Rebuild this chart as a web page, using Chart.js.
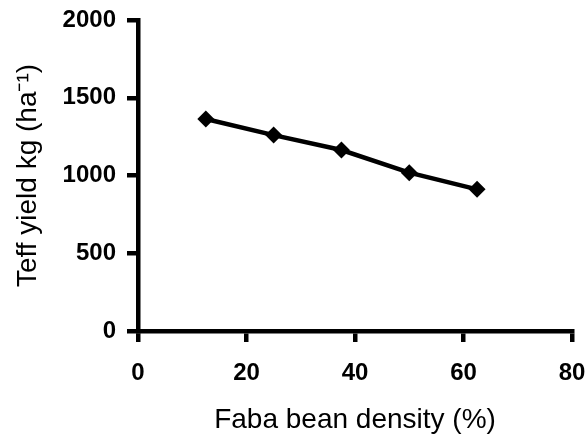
<!DOCTYPE html>
<html>
<head>
<meta charset="utf-8">
<script src="https://cdn.jsdelivr.net/npm/chart.js@4.4.1/dist/chart.umd.min.js"></script>
<style>
    html, body { margin: 0; padding: 0; background: #fff; }
    #wrap { width: 587px; height: 434px; }
</style>
</head>
<body>
<div id="wrap"><canvas id="yield-chart" width="587" height="434"></canvas></div>
<script>
// faba bean density (%) vs teff yield
const density = [12.5, 25, 37.5, 50, 62.5];
const teffYield = [1363, 1260, 1164, 1018, 911];

const xTicks = [0, 20, 40, 60, 80];
const yTicks = [0, 500, 1000, 1500, 2000];

const xTitle = 'Faba bean density (%)';
const yTitle = 'Teff yield kg (ha\u207B\u00B9)';

const FONT = '"Liberation Sans", Arial, Helvetica, sans-serif';

const points = density.map((d, i) => ({ x: d, y: teffYield[i] }));

const ctx = document.getElementById('yield-chart').getContext('2d');

new Chart(ctx, {
    type: 'line',
    data: {
        datasets: [{
            data: points,
            borderColor: '#000',
            backgroundColor: '#000',
            borderWidth: 4.5,
            pointStyle: 'rectRot',
            pointRadius: 8.5,
            pointBorderWidth: 0,
            tension: 0,
            fill: false
        }]
    },
    options: {
        responsive: false,
        animation: false,
        devicePixelRatio: 1,
        layout: { padding: { top: 20, right: 15, bottom: 0, left: 0 } },
        plugins: {
            legend: { display: false },
            tooltip: { enabled: false }
        },
        scales: {
            x: {
                type: 'linear',
                min: xTicks[0],
                max: xTicks[xTicks.length - 1],
                afterBuildTicks: scale => { scale.ticks = xTicks.map(v => ({ value: v })); },
                afterFit: scale => {
                    // tick padding otherwise widens the side margins
                    scale.height = 103;
                    scale.paddingLeft = 0;
                    scale.paddingRight = 15;
                },
                border: { display: true, color: '#000', width: 4.5 },
                grid: { drawOnChartArea: false, drawTicks: true, tickLength: 11, color: '#000', lineWidth: 4.5 },
                ticks: {
                    color: '#000',
                    padding: 17,
                    maxRotation: 0,
                    callback: v => String(v),
                    font: { family: FONT, size: 24, weight: 'bold' }
                },
                title: {
                    display: true,
                    text: xTitle,
                    color: '#000',
                    padding: { top: 0, bottom: 0 },
                    font: { family: FONT, size: 28, lineHeight: 0.95 }
                }
            },
            y: {
                type: 'linear',
                min: yTicks[0],
                max: yTicks[yTicks.length - 1],
                afterBuildTicks: scale => { scale.ticks = yTicks.map(v => ({ value: v })); },
                afterFit: scale => {
                    scale.width = 138;
                    scale.paddingTop = 20;
                    scale.paddingBottom = 0;
                },
                border: { display: true, color: '#000', width: 4.5 },
                grid: { drawOnChartArea: false, drawTicks: true, tickLength: 11, color: '#000', lineWidth: 4.5 },
                ticks: {
                    color: '#000',
                    padding: 11,
                    callback: v => String(v),
                    font: { family: FONT, size: 24, weight: 'bold' }
                },
                title: {
                    display: true,
                    text: yTitle,
                    color: '#000',
                    padding: { top: 11, bottom: 0 },
                    font: { family: FONT, size: 28 }
                }
            }
        }
    }
});
</script>
</body>
</html>
